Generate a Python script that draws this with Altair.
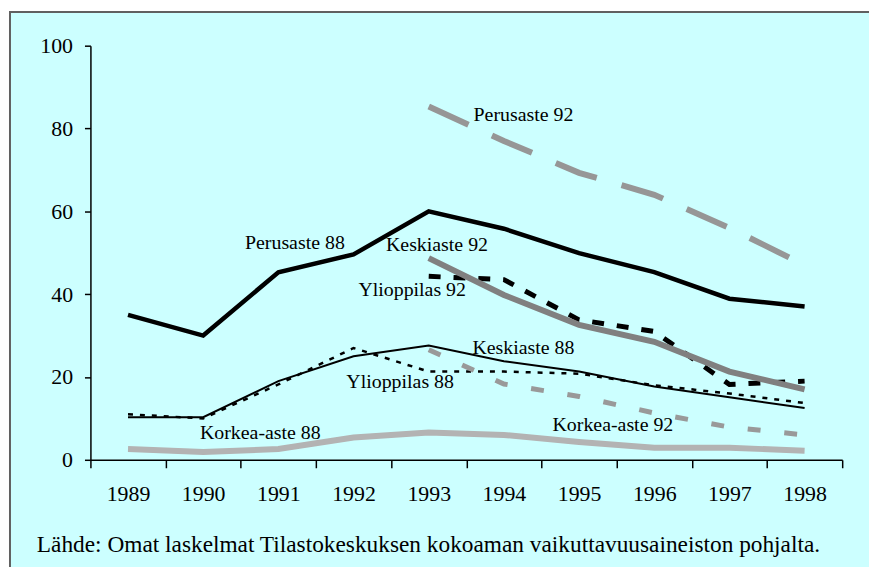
import altair as alt
import pandas as pd

# ---- data ----
years88 = [1989, 1990, 1991, 1992, 1993, 1994, 1995, 1996, 1997, 1998]
years92 = [1993, 1994, 1995, 1996, 1997, 1998]

perusaste88 = [35, 30, 45.3, 49.6, 60, 55.8, 49.9, 45.3, 38.9, 37]
keskiaste88 = [10.3, 10.3, 19, 25, 27.6, 23.8, 21.3, 17.7, 15.1, 12.5]
ylioppilas88 = [11, 10, 18.2, 27, 21.3, 21.3, 20.8, 18, 16, 13.7]
korkea88 = [2.6, 1.9, 2.6, 5.4, 6.6, 6, 4.3, 2.9, 2.9, 2.2]

perusaste92 = [85.3, 77, 69.3, 64, 56, 47]
keskiaste92 = [48.7, 39.8, 32.6, 28.5, 21.3, 17]
ylioppilas92 = [44.3, 43.5, 33.8, 31, 18.2, 19]
korkea92 = [26.6, 18.3, 15.3, 11.3, 7.9, 6]

label_texts = ["Perusaste 92", "Perusaste 88", "Keskiaste 92", "Ylioppilas 92",
               "Keskiaste 88", "Ylioppilas 88", "Korkea-aste 88", "Korkea-aste 92"]
label_years = [1994.26, 1991.22, 1993.11, 1992.78, 1994.26, 1992.62, 1990.76, 1995.45]
label_values = [83.2, 52.3, 51.8, 41.0, 26.9, 18.7, 6.5, 8.4]

y_ticks = [0, 20, 40, 60, 80, 100]
x_ticks = [1988.5 + i * 0.5 for i in range(21)]

caption = "Lähde: Omat laskelmat Tilastokeskuksen kokoaman vaikuttavuusaineiston pohjalta."

FONT = "Liberation Serif"

x_enc = alt.X(
    "year:Q",
    scale=alt.Scale(domain=[1988.5, 1998.5], nice=False, zero=False),
    axis=alt.Axis(
        values=x_ticks,
        labelExpr="datum.value % 1 == 0 ? format(datum.value, 'd') : ''",
        tickOpacity={"condition": {"test": "datum.value % 1 == 0", "value": 0}, "value": 1},
        tickSize=8, tickColor="black", tickWidth=1.5,
        domainColor="black", domainWidth=1.5,
        labelFont=FONT, labelFontSize=22, labelColor="black",
        labelPadding=16, labelOverlap=False, labelFlush=False,
        grid=False, title=None, zindex=1,
    ),
)
y_enc = alt.Y(
    "value:Q",
    scale=alt.Scale(domain=[0, 100], nice=False),
    axis=alt.Axis(
        values=y_ticks, tickSize=6, tickColor="black", tickWidth=1.5,
        domainColor="black", domainWidth=1.5,
        labelFont=FONT, labelFontSize=22, labelColor="black",
        labelPadding=12, grid=False, title=None, zindex=1,
    ),
)


def series(years, values, color, width, dash=None):
    df = pd.DataFrame({"year": years, "value": values})
    kw = dict(color=color, strokeWidth=width, strokeCap="butt", strokeJoin="miter")
    if dash:
        kw["strokeDash"] = dash
    return alt.Chart(df).mark_line(**kw).encode(x=x_enc, y=y_enc)


frame = alt.Chart(pd.DataFrame({"a": [0]})).mark_rect(
    fill="#ccffff", stroke="#606060", strokeWidth=2
).encode(x=alt.value(-81), x2=alt.value(1000), y=alt.value(-34), y2=alt.value(1000))

layers = [
    frame,
    series(years88, korkea88, "#b3b3b3", 6),
    series(years88, keskiaste88, "black", 2),
    series(years88, ylioppilas88, "black", 2.5, [5, 7]),
    series(years88, perusaste88, "black", 4.5),
    series(years92, korkea92, "#999999", 5, [13, 24]),
    series(years92, ylioppilas92, "black", 5, [12, 13]),
    series(years92, keskiaste92, "#808080", 6),
    series(years92, perusaste92, "#969696", 6, [44, 26]),
]

labels = alt.Chart(pd.DataFrame({
    "year": label_years, "value": label_values, "text": label_texts
})).mark_text(font=FONT, fontSize=20, align="center", baseline="middle", color="black").encode(
    x=x_enc, y=y_enc, text="text:N"
)
layers.append(labels)

source = alt.Chart(pd.DataFrame({"text": [caption]})).mark_text(
    font=FONT, fontSize=23.5, align="left", baseline="alphabetic", color="black"
).encode(x=alt.value(-54), y=alt.value(510), text="text:N")
layers.append(source)

chart = alt.layer(*layers).properties(
    width=757, height=417,
    autosize=alt.AutoSizeParams(type="none"),
    padding={"left": 83, "top": 36, "right": 27, "bottom": 106},
    background="white",
).configure_view(stroke=None)

chart.save("out.html", embed_options={"renderer": "svg", "actions": False})
